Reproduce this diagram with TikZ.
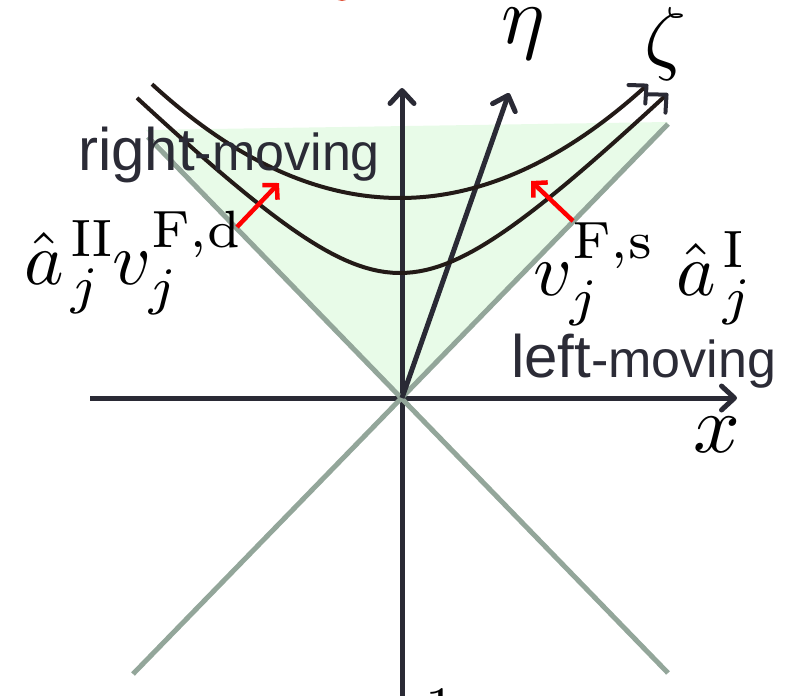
\documentclass[tikz,border=0pt]{standalone}
\usepackage{fontspec}
\usepackage{graphicx}
\newfontfamily\lblsans{Liberation Sans}
\usetikzlibrary{arrows.meta}
\definecolor{axisc}{HTML}{2A2A35}
\definecolor{conec}{HTML}{93A69A}
\definecolor{fillc}{HTML}{E8FBE8}
\definecolor{curvec}{HTML}{231A17}
\definecolor{textc}{HTML}{2B2B36}
\definecolor{topred}{HTML}{E0553C}
\newcommand{\lblmath}[1]{\scalebox{8.2}{$#1$}}
\newcommand{\oplmath}[1]{\scalebox{7.5}{$#1$}}
\begin{document}
\begin{tikzpicture}[x=1pt,y=-1pt,
  axisline/.style={line width=5pt, draw=axisc, -{Straight Barb[length=13pt,width=24pt,round]}},
  coneline/.style={line width=5pt, draw=conec},
  worldline/.style={line width=4pt, draw=curvec, -{Straight Barb[length=13pt,width=25pt,round,color=axisc]}},
  redarrow/.style={line width=4.5pt, draw=red, -{Straight Barb[length=10pt,width=21pt]}},
  mathlbl/.style={inner sep=0pt, anchor=base west},
  sanslbl/.style={inner sep=0pt, anchor=base west, text=textc},
]
\useasboundingbox (0,0) rectangle (798,696);
\clip (0,0) rectangle (798,696);
% coordinates
\coordinate (O) at (402,398);
\coordinate (xs) at (90,398);
\coordinate (xe) at (737,398);
\coordinate (ys) at (402,710);
\coordinate (ye) at (402,88);
\coordinate (etatip) at (509,93);
\coordinate (g1a) at (133,674);
\coordinate (g1b) at (668,124);
\coordinate (g2a) at (668,673);
\coordinate (g2b) at (148,137);
\coordinate (fl) at (146,130);
\coordinate (fr) at (668,122);
\coordinate (r1a) at (237,227);
\coordinate (r1b) at (279,183);
\coordinate (r2a) at (573,221);
\coordinate (r2b) at (531,181);
% cut-off fragment at the top edge
\fill[topred] (342,-10) ellipse (10pt and 11pt);
% shaded future cone
\fill[fillc] (O) -- (fl) -- (fr) -- cycle;
% axes
\draw[axisline] (xs) -- (xe);
\draw[axisline] (ys) -- (ye);
% light cone
\draw[coneline] (g1a) -- (g1b);
\draw[coneline] (g2a) -- (g2b);
% eta axis
\draw[axisline] (O) -- (etatip);
% accelerated world lines
\draw[worldline] plot[domain=152:648, samples=80] (\x, {198-18.5*((\x-400)/100)^2});
\draw[worldline] plot[domain=137:668, samples=80] (\x, {273-100*(sqrt(1.21+((\x-400)/100)^2)-1.1)});
% red arrows
\draw[redarrow] (r1a) -- (r1b);
\draw[redarrow] (r2a) -- (r2b);
% labels
\node[mathlbl] (eta) at (501,43) {\lblmath{\eta}};
\node[mathlbl] (zeta) at (644,64) {\lblmath{\zeta}};
\node[mathlbl] (xlbl) at (693,452) {\lblmath{x}};
\node[mathlbl] (a2) at (24,284) {\oplmath{\hat a\mkern1.5mu\vphantom{\hat a}_j^{\mathrm{II}}}};
\node[mathlbl] (vd) at (112,284) {\oplmath{v_j^{\mathrm{F,d}}}};
\node[mathlbl] (vs) at (533,295) {\oplmath{v_j^{\mathrm{F,s}}}};
\node[mathlbl] (a1) at (676,295) {\oplmath{\hat a\mkern1.5mu\vphantom{\hat a}_j^{\mathrm{I}}}};
\node[sanslbl] (rm) at (78,170) {\lblsans\fontsize{60}{60}\selectfont right\fontsize{52}{52}\selectfont -moving};
\node[sanslbl] (lm) at (511,377) {\lblsans\fontsize{60}{60}\selectfont left\fontsize{52}{52}\selectfont -moving};
\node[inner sep=0pt, anchor=north] (one) at (440,688) {\scalebox{6}{1}};
\end{tikzpicture}
\end{document}
